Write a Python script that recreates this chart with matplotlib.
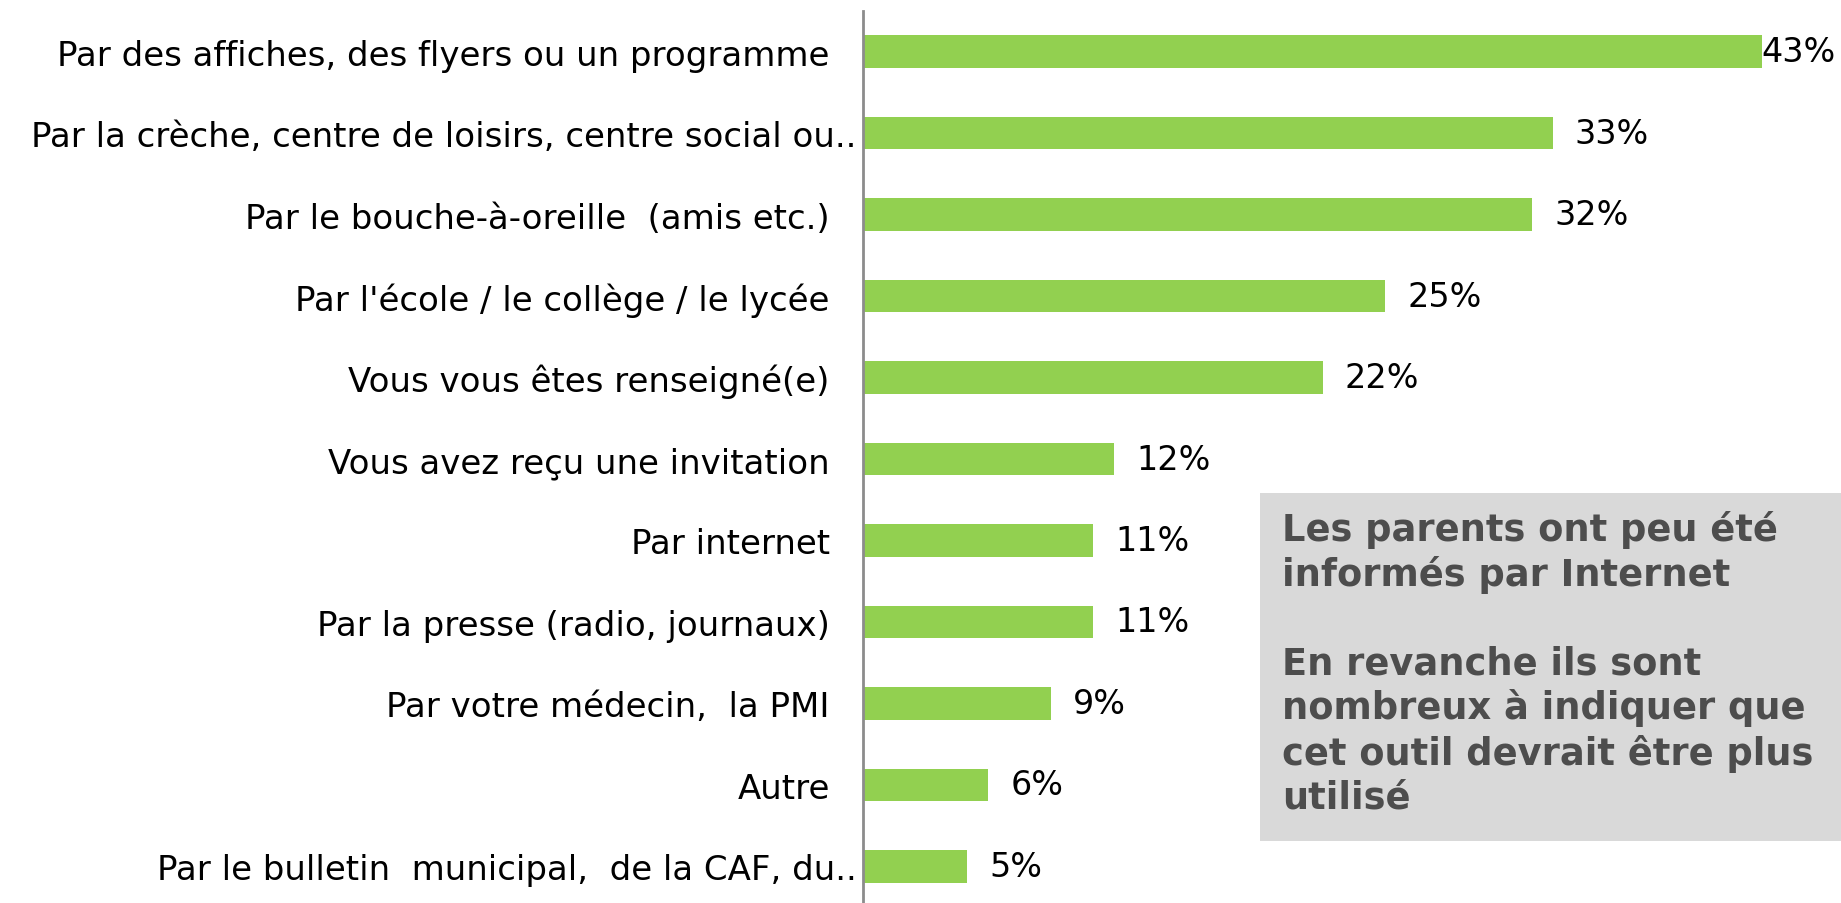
import matplotlib
matplotlib.use("Agg")
import matplotlib.pyplot as plt
import matplotlib.transforms as mtransforms
from matplotlib.patches import Rectangle

# Modes d'information des parents (% de répondants)
categories = [
    "Par des affiches, des flyers ou un programme",
    "Par la crèche, centre de loisirs, centre social ou..",
    "Par le bouche-à-oreille  (amis etc.)",
    "Par l'école / le collège / le lycée",
    "Vous vous êtes renseigné(e)",
    "Vous avez reçu une invitation",
    "Par internet",
    "Par la presse (radio, journaux)",
    "Par votre médecin,  la PMI",
    "Autre",
    "Par le bulletin  municipal,  de la CAF, du..",
]
valeurs = [43, 33, 32, 25, 22, 12, 11, 11, 9, 6, 5]

encadre = ("Les parents ont peu été\ninformés par Internet\n\n"
           "En revanche ils sont\nnombreux à indiquer que\n"
           "cet outil devrait être plus\nutilisé")

plt.rcParams["font.family"] = ["DejaVu Sans"]

fig = plt.figure(figsize=(18.41, 9.04), dpi=100)
ax = fig.add_axes([863 / 1841, 0.0, 1 - 863 / 1841, 1 - 12 / 904])

y = list(range(len(categories)))
ax.barh(y, valeurs, height=0.4, color="#92d050")
ax.set_ylim(len(categories) - 0.55, -0.5)
ax.set_xlim(0, 46.8)

for i, v in enumerate(valeurs):
    dx = 0 if v == max(valeurs) else 16
    ax.annotate(f"{v}%", (v, i), xytext=(dx, 0), textcoords="offset points",
                va="center", ha="left", fontsize=24, color="black")

ax.set_yticks(y)
ax.set_yticklabels(categories, fontsize=24.5)
ax.tick_params(axis="y", length=0, pad=24)
# les libellés tronqués ("..") débordent un peu vers l'axe
decale = mtransforms.ScaledTranslation(0.27, 0, fig.dpi_scale_trans)
for lab in ax.get_yticklabels():
    if lab.get_text().endswith(".."):
        lab.set_transform(lab.get_transform() + decale)
ax.set_xticks([])
for s in ["top", "right", "bottom"]:
    ax.spines[s].set_visible(False)
ax.spines["left"].set_color("#8c8c8c")
ax.spines["left"].set_linewidth(2)

# encadré de commentaire
fig.patches.append(Rectangle((1260 / 1841, 1 - 842 / 904), 581 / 1841, 348 / 904,
                             transform=fig.transFigure, facecolor="#d9d9d9",
                             edgecolor="none", zorder=0))
fig.text(1282 / 1841, 1 - 511 / 904, encadre, ha="left", va="top",
         fontsize=26.5, fontweight="bold", color="#4d4d4d", linespacing=1.24)

fig.savefig("out.png", dpi=100)
